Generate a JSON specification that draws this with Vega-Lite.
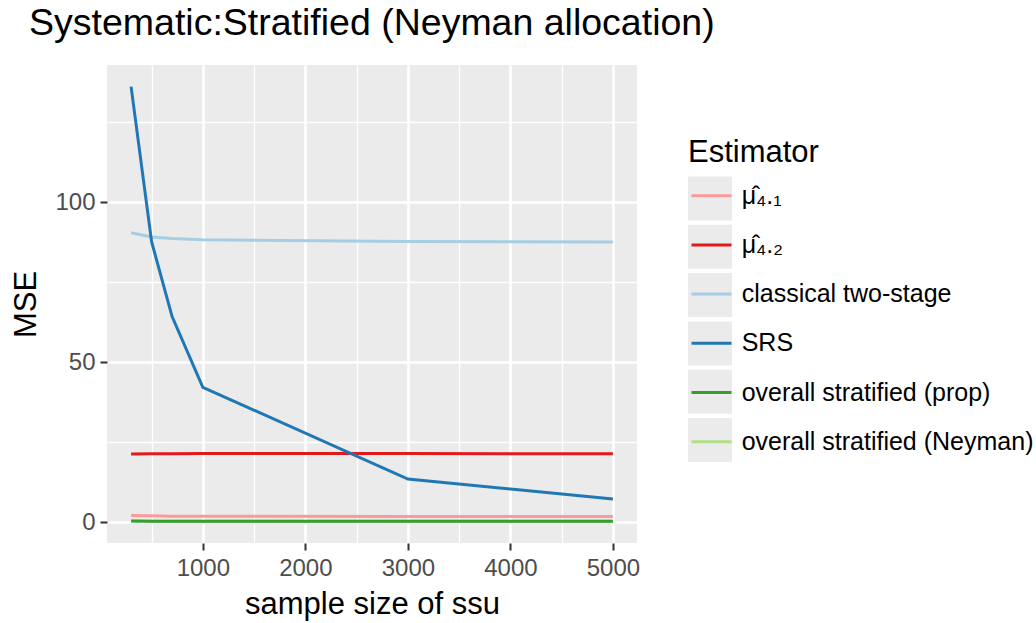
{
  "$schema": "https://vega.github.io/schema/vega-lite/v6.json",
  "width": 530,
  "height": 478,
  "autosize": {"type": "none"},
  "padding": {"left": 107, "top": 65, "right": 399, "bottom": 80},
  "background": "white",
  "config": {
    "font": "Liberation Sans",
    "view": {"fill": "#EBEBEB", "stroke": null},
    "axis": {"domain": false, "labelFont": "Liberation Sans", "titleFont": "Liberation Sans", "titleFontWeight": "normal", "titleColor": "black"},
    "legend": {"titleFont": "Liberation Sans", "labelFont": "Liberation Sans"}
  },
  "title": {
    "text": "Systematic:Stratified (Neyman allocation)",
    "anchor": "start",
    "frame": "group",
    "fontSize": 37.5,
    "fontWeight": "normal",
    "color": "black",
    "baseline": "alphabetic",
    "dx": -78,
    "dy": 35,
    "offset": 28
  },
  "data": {
    "values": [
      {"n": 300, "Estimator": "μ̂₄.₁", "MSE": 2.1},
      {"n": 500, "Estimator": "μ̂₄.₁", "MSE": 2.0},
      {"n": 700, "Estimator": "μ̂₄.₁", "MSE": 1.9},
      {"n": 1000, "Estimator": "μ̂₄.₁", "MSE": 1.9},
      {"n": 3000, "Estimator": "μ̂₄.₁", "MSE": 1.8},
      {"n": 5000, "Estimator": "μ̂₄.₁", "MSE": 1.8},
      {"n": 300, "Estimator": "μ̂₄.₂", "MSE": 21.3},
      {"n": 500, "Estimator": "μ̂₄.₂", "MSE": 21.4},
      {"n": 700, "Estimator": "μ̂₄.₂", "MSE": 21.4},
      {"n": 1000, "Estimator": "μ̂₄.₂", "MSE": 21.5},
      {"n": 3000, "Estimator": "μ̂₄.₂", "MSE": 21.5},
      {"n": 5000, "Estimator": "μ̂₄.₂", "MSE": 21.4},
      {"n": 300, "Estimator": "classical two-stage", "MSE": 90.5},
      {"n": 500, "Estimator": "classical two-stage", "MSE": 89.2},
      {"n": 700, "Estimator": "classical two-stage", "MSE": 88.7},
      {"n": 1000, "Estimator": "classical two-stage", "MSE": 88.3},
      {"n": 3000, "Estimator": "classical two-stage", "MSE": 87.8},
      {"n": 5000, "Estimator": "classical two-stage", "MSE": 87.6},
      {"n": 300, "Estimator": "SRS", "MSE": 136.2},
      {"n": 500, "Estimator": "SRS", "MSE": 87.7},
      {"n": 700, "Estimator": "SRS", "MSE": 64.3},
      {"n": 1000, "Estimator": "SRS", "MSE": 42.2},
      {"n": 3000, "Estimator": "SRS", "MSE": 13.5},
      {"n": 5000, "Estimator": "SRS", "MSE": 7.3},
      {"n": 300, "Estimator": "overall stratified (Neyman)", "MSE": 0.35},
      {"n": 500, "Estimator": "overall stratified (Neyman)", "MSE": 0.3},
      {"n": 700, "Estimator": "overall stratified (Neyman)", "MSE": 0.3},
      {"n": 1000, "Estimator": "overall stratified (Neyman)", "MSE": 0.3},
      {"n": 3000, "Estimator": "overall stratified (Neyman)", "MSE": 0.3},
      {"n": 5000, "Estimator": "overall stratified (Neyman)", "MSE": 0.3},
      {"n": 300, "Estimator": "overall stratified (prop)", "MSE": 0.4},
      {"n": 500, "Estimator": "overall stratified (prop)", "MSE": 0.3},
      {"n": 700, "Estimator": "overall stratified (prop)", "MSE": 0.3},
      {"n": 1000, "Estimator": "overall stratified (prop)", "MSE": 0.3},
      {"n": 3000, "Estimator": "overall stratified (prop)", "MSE": 0.3},
      {"n": 5000, "Estimator": "overall stratified (prop)", "MSE": 0.3}
    ]
  },
  "encoding": {
    "x": {
      "field": "n",
      "type": "quantitative",
      "title": "sample size of ssu",
      "scale": {"domain": [65, 5235], "nice": false, "zero": false},
      "axis": {
        "values": [500, 1000, 1500, 2000, 2500, 3000, 3500, 4000, 4500, 5000],
        "labelExpr": "datum.value % 1000 === 0 ? datum.label : ''",
        "labelFontSize": 24,
        "labelColor": "#4D4D4D",
        "labelPadding": 6,
        "labelFlush": false,
        "labelOverlap": false,
        "format": "d",
        "tickSize": 7,
        "tickWidth": 2,
        "tickColor": {"condition": {"test": "datum.value % 1000 === 0", "value": "#333333"}, "value": "transparent"},
        "gridColor": "white",
        "gridWidth": {"condition": {"test": "datum.value % 1000 === 0", "value": 2.6}, "value": 1.3},
        "titleFontSize": 31,
        "titleBaseline": "alphabetic",
        "titleY": 70
      }
    },
    "y": {
      "field": "MSE",
      "type": "quantitative",
      "title": "MSE",
      "scale": {"domain": [-6.49, 142.95], "nice": false, "zero": false},
      "axis": {
        "values": [0, 25, 50, 75, 100, 125],
        "labelExpr": "datum.value % 50 === 0 ? datum.label : ''",
        "labelFontSize": 24,
        "labelColor": "#4D4D4D",
        "labelPadding": 5,
        "labelFlush": false,
        "labelOverlap": false,
        "tickSize": 7,
        "tickWidth": 2,
        "tickColor": {"condition": {"test": "datum.value % 50 === 0", "value": "#333333"}, "value": "transparent"},
        "gridColor": "white",
        "gridWidth": {"condition": {"test": "datum.value % 50 === 0", "value": 2.6}, "value": 1.3},
        "titleFontSize": 31,
        "titleBaseline": "alphabetic",
        "titleX": -72,
        "titleY": 239
      }
    }
  },
  "layer": [
    {
      "mark": {"type": "point", "shape": "square", "filled": true, "opacity": 0},
      "encoding": {
        "fill": {
          "field": "Estimator",
          "type": "nominal",
          "sort": ["μ̂₄.₁", "μ̂₄.₂", "classical two-stage", "SRS", "overall stratified (prop)", "overall stratified (Neyman)"],
          "scale": {"range": ["#EBEBEB", "#EBEBEB", "#EBEBEB", "#EBEBEB", "#EBEBEB", "#EBEBEB"]},
          "legend": {
            "orient": "none",
            "legendX": 581,
            "legendY": 72.5,
            "title": "Estimator",
            "titleFontSize": 31,
            "titleFontWeight": "normal",
            "titleColor": "black",
            "titleBaseline": "top",
            "titlePadding": 8,
            "symbolType": "square",
            "symbolSize": 1936,
            "symbolOpacity": 1,
            "symbolStrokeWidth": 0,
            "rowPadding": 4.3,
            "labelOpacity": 0,
            "labelFontSize": 25,
            "labelLimit": 400,
            "labelOffset": 10
          }
        }
      }
    },
    {
      "mark": {"type": "line", "strokeWidth": 3},
      "encoding": {
        "stroke": {
          "field": "Estimator",
          "type": "nominal",
          "scale": {
            "domain": ["μ̂₄.₁", "μ̂₄.₂", "classical two-stage", "SRS", "overall stratified (prop)", "overall stratified (Neyman)"],
            "range": ["#FB9A99", "#E31A1C", "#A6CEE3", "#1F78B4", "#33A02C", "#B2DF8A"]
          },
          "legend": {
            "orient": "none",
            "legendX": 583,
            "legendY": 68.2,
            "title": "Estimator",
            "titleFontSize": 31,
            "titleFontWeight": "normal",
            "titleColor": "transparent",
            "titleBaseline": "top",
            "titlePadding": 10,
            "symbolType": "stroke",
            "symbolSize": 1600,
            "symbolStrokeWidth": 3,
            "rowPadding": 14.2,
            "labelFontSize": 25,
            "labelLimit": 400,
            "labelColor": "black",
            "labelOffset": 8.7
          }
        }
      }
    }
  ]
}
